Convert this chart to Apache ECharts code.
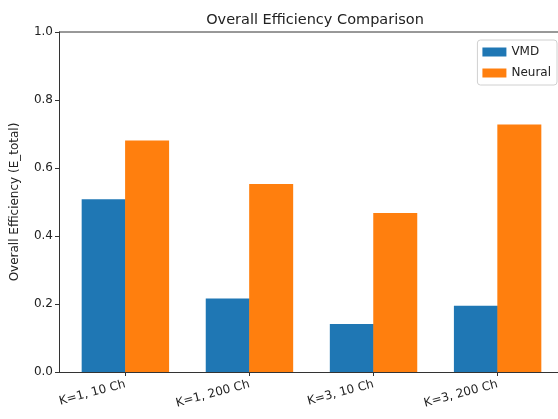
<!DOCTYPE html>
<html>
<head>
<meta charset="utf-8">
<script src="https://cdn.jsdelivr.net/npm/echarts@6/dist/echarts.min.js"></script>
<style>
	html, body { margin: 0; padding: 0; background: #fff; }
	#main { width: 558px; height: 419px; }
</style>
</head>
<body>
<div id="main"></div>
<script>
	// categories and values
	var categories = ['K=1, 10 Ch', 'K=1, 200 Ch', 'K=3, 10 Ch', 'K=3, 200 Ch'];
	var vmdValues = [0.508, 0.216, 0.141, 0.195];
	var neuralValues = [0.681, 0.553, 0.468, 0.728];

	var barW = 0.35;
	var fontName = 'DejaVu Sans';

	// bars sit either side of each category position
	function toPairs(vals, shift) {
		var out = [];
		for(var i = 0; i < vals.length; i++) {
			out.push([i + shift, vals[i]]);
		}
		return out;
	}

	var chart = echarts.init(document.getElementById('main'));
	var option = {
		animation: false,
		title: {
			text: 'Overall Efficiency Comparison',
			left: 310,
			top: 8,
			textAlign: 'center',
			textStyle: {
				fontFamily: fontName,
				fontWeight: 'normal',
				fontSize: 14.5,
				color: '#222'
			}
		},
		legend: {
			right: 1,
			top: 40,
			orient: 'vertical',
			icon: 'rect',
			itemWidth: 24,
			itemHeight: 9,
			itemGap: 9,
			padding: [6, 6, 6, 5],
			borderColor: '#d0d0d0',
			borderWidth: 1,
			borderRadius: 3,
			textStyle: {
				fontFamily: fontName,
				fontSize: 12,
				color: '#222'
			},
			data: ['VMD', 'Neural']
		},
		grid: {
			left: 59,
			right: -6,
			top: 32,
			bottom: 47,
			containLabel: false,
			outerBoundsMode: 'none'
		},
		xAxis: {
			type: 'value',
			min: -0.535,
			max: 3.535,
			splitLine: { show: false },
			axisLine: { show: true, onZero: false, lineStyle: { color: '#333', width: 1 } },
			axisTick: {
				show: true,
				customValues: [0, 1, 2, 3],
				length: 4,
				lineStyle: { color: '#333' }
			},
			axisLabel: {
				customValues: [0, 1, 2, 3],
				rotate: 15,
				margin: 12,
				fontFamily: fontName,
				fontSize: 12,
				color: '#222',
				formatter: function(v) {
					return categories[Math.round(v)];
				}
			}
		},
		yAxis: {
			type: 'value',
			min: 0,
			max: 1,
			interval: 0.2,
			name: 'Overall Efficiency (E_total)',
			nameLocation: 'middle',
			nameGap: 38,
			nameTextStyle: {
				fontFamily: fontName,
				fontSize: 12,
				color: '#222'
			},
			splitLine: { show: false },
			axisLine: { show: true, onZero: false, lineStyle: { color: '#333', width: 1 } },
			axisTick: { show: true, length: 4, lineStyle: { color: '#333' } },
			axisLabel: {
				margin: 6,
				fontFamily: fontName,
				fontSize: 12,
				color: '#222',
				formatter: function(v) {
					return v.toFixed(1);
				}
			}
		},
		series: [{
				name: 'VMD',
				type: 'bar',
				barWidth: 44,
				barGap: '-100%',
				itemStyle: { color: '#1f77b4' },
				data: toPairs(vmdValues, -barW / 2)
			},
			{
				name: 'Neural',
				type: 'bar',
				barWidth: 44,
				barGap: '-100%',
				itemStyle: { color: '#ff7f0e' },
				data: toPairs(neuralValues, barW / 2)
			}
		]
	};
	chart.setOption(option);

	// top frame line (matplotlib spine)
	chart.setOption({
		graphic: [{
			type: 'line',
			shape: { x1: 59, y1: 32, x2: 564, y2: 32 },
			style: { stroke: '#333', lineWidth: 1 }
		}]
	});
</script>
</body>
</html>
